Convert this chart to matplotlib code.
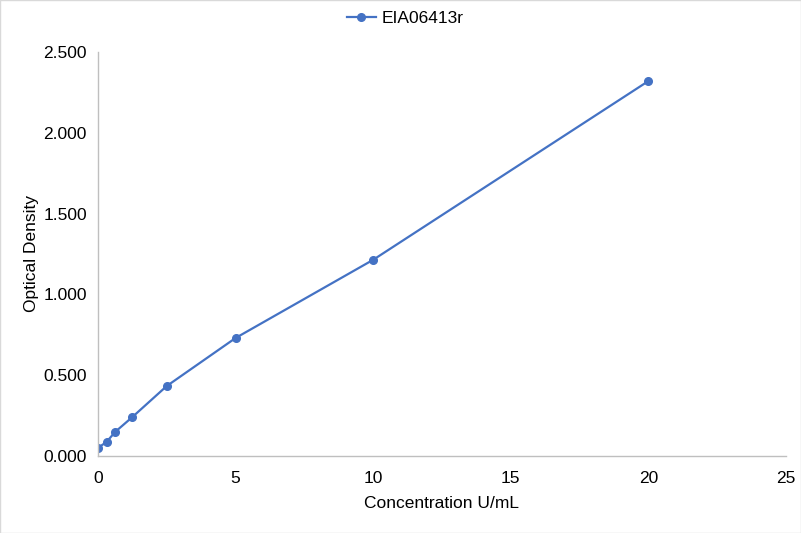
"""Standard curve for EIA06413r: optical density vs concentration."""

import matplotlib.pyplot as plt
from matplotlib.ticker import FormatStrFormatter

plt.rcParams["font.family"] = ["Liberation Sans", "DejaVu Sans"]

concentration = [0, 0.3125, 0.625, 1.25, 2.5, 5, 10, 20]
optical_density = [0.050, 0.087, 0.149, 0.241, 0.433, 0.730, 1.214, 2.320]
series_name = "EIA06413r"

line_color = "#4472C4"
axis_color = "#BFBFBF"

fig = plt.figure(figsize=(8.01, 5.33), dpi=100)
ax = fig.add_axes([0.1223, 0.1445, 0.859, 0.758])

ax.plot(concentration, optical_density, color=line_color, linewidth=1.6,
        marker="o", markersize=5.5, label=series_name)

ax.set_xlim(0, 25)
ax.set_ylim(0, 2.5)
ax.set_xticks([0, 5, 10, 15, 20, 25])
ax.set_yticks([0, 0.5, 1.0, 1.5, 2.0, 2.5])
ax.yaxis.set_major_formatter(FormatStrFormatter("%.3f"))

for side in ("top", "right"):
    ax.spines[side].set_visible(False)
for side in ("left", "bottom"):
    ax.spines[side].set_color(axis_color)
    ax.spines[side].set_linewidth(1)

ax.tick_params(axis="both", length=0, labelsize=12.5, labelcolor="black")
ax.tick_params(axis="x", pad=11)
ax.tick_params(axis="y", pad=8)

ax.set_xlabel("Concentration U/mL", fontsize=12.5, labelpad=7)
ax.set_ylabel("Optical Density", fontsize=12.5, labelpad=3)

fig.legend(*ax.get_legend_handles_labels(), loc="center",
           bbox_to_anchor=(0.506, 0.965), frameon=False,
           fontsize=12.5, handlelength=1.7, handletextpad=0.35,
           borderaxespad=0)

fig.patches.append(plt.Rectangle((0, 0), 1, 1, transform=fig.transFigure,
                                 fill=False, edgecolor="#D9D9D9", linewidth=1))

fig.savefig("out.png", dpi=100)
